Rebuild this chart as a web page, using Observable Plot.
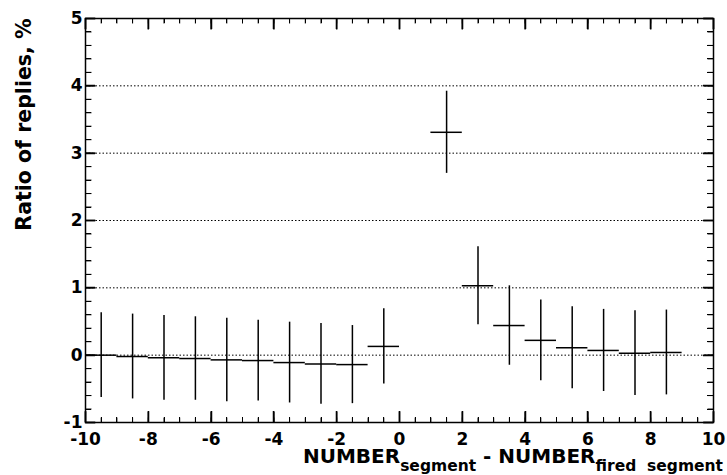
<!DOCTYPE html>
<html><head><meta charset="utf-8">
<script src="https://cdn.jsdelivr.net/npm/d3@7"></script>
<script src="https://cdn.jsdelivr.net/npm/@observablehq/plot@0.6"></script>
<style>body{margin:0;background:#fff} #chart{width:727px;height:475px}</style>
</head><body><div id="chart"></div>
<script>
// Bin centres (bin width 1; the bin at 0.5 is empty)
const binCenters = [-9.5,-8.5,-7.5,-6.5,-5.5,-4.5,-3.5,-2.5,-1.5,-0.5,1.5,2.5,3.5,4.5,5.5,6.5,7.5,8.5];
const ratios     = [0.00,-0.02,-0.04,-0.05,-0.07,-0.08,-0.11,-0.13,-0.14,0.13,3.31,1.03,0.44,0.22,0.11,0.07,0.03,0.04];
const errors     = [0.63,0.63,0.63,0.62,0.62,0.60,0.60,0.60,0.58,0.56,0.61,0.58,0.59,0.60,0.61,0.61,0.63,0.63];
const binWidth = 1;
const xTicks = [-10,-8,-6,-4,-2,0,2,4,6,8,10];
const yTicks = [-1,0,1,2,3,4,5];
const gridLevels = [0,1,2,3,4];
const yTitle = "Ratio of replies, %";

const data = binCenters.map((c,i)=>({c, v: ratios[i], e: errors[i]}));

const W=727,H=475, mL=85, mR=14, mT=18, mB=53;
const iW = W-mL-mR, iH = H-mT-mB;
const xDom = [-10,10], yDom = [-1,5];
const xMinor = d3.range(-10, 10.001, 0.5);
const yMinor = d3.range(-1, 5.001, 0.2);
const pxY = (yDom[1]-yDom[0])/iH, pxX = (xDom[1]-xDom[0])/iW;
const font = "'DejaVu Sans', sans-serif";

// inward ROOT-style ticks drawn as links
const tickSets = [
  {dir: "x", vals: xMinor, len: 5, sw: 1},
  {dir: "x", vals: xTicks, len: 11, sw: 1.5},
  {dir: "y", vals: yMinor, len: 6, sw: 1},
  {dir: "y", vals: yTicks, len: 10, sw: 1.5}
];
const tickMarks = [];
for (const {dir, vals, len, sw} of tickSets) {
  if (dir === "x") {
    tickMarks.push(Plot.link(vals, {x1: d=>d, x2: d=>d, y1: yDom[0], y2: yDom[0]+len*pxY, stroke: "black", strokeWidth: sw}));
    tickMarks.push(Plot.link(vals, {x1: d=>d, x2: d=>d, y1: yDom[1]-len*pxY, y2: yDom[1], stroke: "black", strokeWidth: sw}));
  } else {
    tickMarks.push(Plot.link(vals, {y1: d=>d, y2: d=>d, x1: xDom[0], x2: xDom[0]+len*pxX, stroke: "black", strokeWidth: sw}));
    tickMarks.push(Plot.link(vals, {y1: d=>d, y2: d=>d, x1: xDom[1]-len*pxX, x2: xDom[1], stroke: "black", strokeWidth: sw}));
  }
}

const plot = Plot.plot({
  width: W, height: H, marginLeft: mL, marginRight: mR, marginTop: mT, marginBottom: mB,
  x: {domain: xDom}, y: {domain: yDom},
  style: {fontFamily: font, fontWeight: "bold", fontSize: "17px", color: "black", background: "white", overflow: "visible"},
  marks: [
    Plot.ruleY(gridLevels, {stroke: "#000", strokeDasharray: "1.5,2", strokeWidth: 1}),
    ...tickMarks,
    Plot.ruleX(data, {x: "c", y1: d=>d.v-d.e, y2: d=>d.v+d.e, stroke: "black", strokeWidth: 1.5}),
    Plot.ruleY(data, {y: "v", x1: d=>d.c-binWidth/2, x2: d=>d.c+binWidth/2, stroke: "black", strokeWidth: 1.5}),
    Plot.frame({stroke: "black", strokeWidth: 1.5}),
    Plot.axisX({ticks: xTicks, tickSize: 0, tickPadding: 10, tickFormat: d=>String(d), label: null, fontSize: 17, fontWeight: "bold"}),
    Plot.axisY({ticks: yTicks, tickSize: 0, tickPadding: 3, tickFormat: d=>String(d), label: null, fontSize: 17, fontWeight: "bold"}),
    Plot.text([yTitle], {frameAnchor: "top-left", dx: -69, rotate: -90, textAnchor: "end", fontSize: 20.5, fontWeight: "bold", fill: "black"})
  ]
});
document.getElementById("chart").appendChild(plot);

const svg = d3.select(plot);

// fallback: same ticks placed with Plot's own scales
const sx = plot.scale("x"), sy = plot.scale("y");
const gT = svg.append("g").attr("stroke", "black");
const X0 = sx.apply(xDom[0]), X1 = sx.apply(xDom[1]), Y0 = sy.apply(yDom[0]), Y1 = sy.apply(yDom[1]);
for (const {dir, vals, len, sw} of tickSets) {
  for (const v of vals) {
    if (dir === "x") {
      const px = Math.round(sx.apply(v)) + 0.5;
      gT.append("line").attr("x1", px).attr("x2", px).attr("y1", Y0).attr("y2", Y0 - len).attr("stroke-width", sw);
      gT.append("line").attr("x1", px).attr("x2", px).attr("y1", Y1).attr("y2", Y1 + len).attr("stroke-width", sw);
    } else {
      const py = Math.round(sy.apply(v)) + 0.5;
      gT.append("line").attr("y1", py).attr("y2", py).attr("x1", X0).attr("x2", X0 + len).attr("stroke-width", sw);
      gT.append("line").attr("y1", py).attr("y2", py).attr("x1", X1).attr("x2", X1 - len).attr("stroke-width", sw);
    }
  }
}

// x-axis title with subscripts
const t = svg.append("text")
  .attr("x", 723).attr("y", 463)
  .attr("text-anchor", "end")
  .attr("font-family", font).attr("font-weight", "bold").attr("fill", "black")
  .attr("xml:space", "preserve");
t.append("tspan").attr("font-size", 20).text("NUMBER");
t.append("tspan").attr("font-size", 15.5).attr("dy", 8).text("segment");
t.append("tspan").attr("font-size", 20).attr("dy", -8).text(" - NUMBER");
t.append("tspan").attr("font-size", 15.5).attr("dy", 8).text("fired  segment");
</script></body></html>
